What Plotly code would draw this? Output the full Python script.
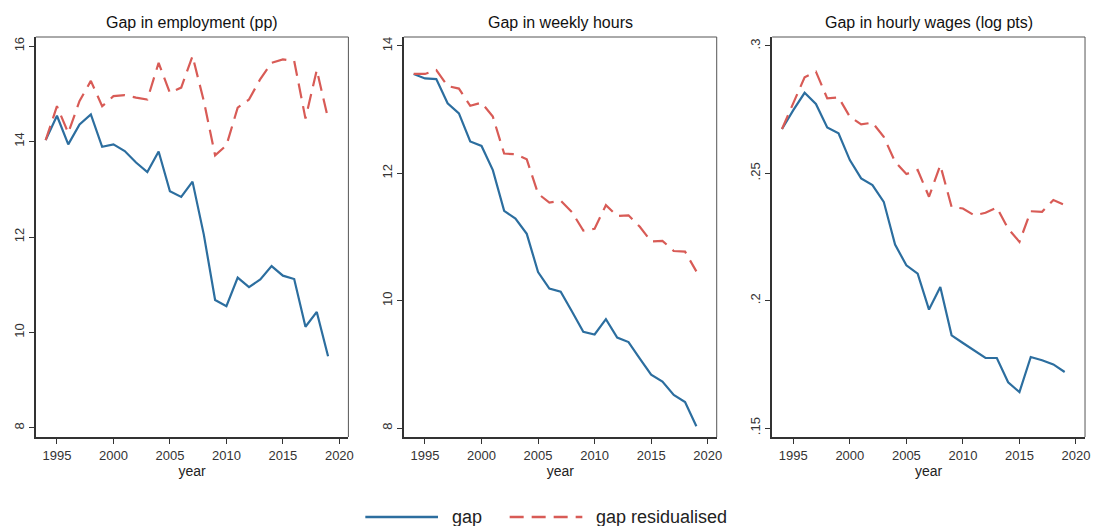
import plotly.graph_objects as go

years = list(range(1994, 2020))

emp_gap = [14.03, 14.54, 13.94, 14.36, 14.57, 13.89, 13.94, 13.80, 13.56, 13.36,
           13.79, 12.96, 12.84, 13.16, 12.05, 10.68, 10.55, 11.15, 10.95, 11.11,
           11.39, 11.19, 11.12, 10.12, 10.43, 9.50]
emp_res = [14.03, 14.74, 14.18, 14.85, 15.27, 14.74, 14.95, 14.97, 14.92, 14.88,
           15.65, 15.02, 15.13, 15.79, 14.85, 13.71, 13.92, 14.71, 14.88, 15.31,
           15.65, 15.72, 15.69, 14.48, 15.50, 14.48]

hrs_gap = [13.56, 13.49, 13.48, 13.10, 12.94, 12.50, 12.43, 12.05, 11.41, 11.29,
           11.05, 10.45, 10.19, 10.14, 9.83, 9.51, 9.47, 9.71, 9.42, 9.35,
           9.09, 8.84, 8.73, 8.52, 8.41, 8.03]
hrs_res = [13.56, 13.56, 13.62, 13.37, 13.33, 13.06, 13.11, 12.89, 12.31, 12.30,
           12.22, 11.68, 11.54, 11.57, 11.39, 11.10, 11.13, 11.50, 11.33, 11.34,
           11.16, 10.93, 10.94, 10.78, 10.77, 10.46]

wage_gap = [0.2674, 0.2748, 0.2816, 0.2772, 0.2680, 0.2657, 0.2552, 0.2480, 0.2454, 0.2388,
            0.2220, 0.2139, 0.2106, 0.1965, 0.2054, 0.1864, 0.1834, 0.1805, 0.1775, 0.1775,
            0.1680, 0.1641, 0.1779, 0.1766, 0.1750, 0.1720]
wage_res = [0.2674, 0.2775, 0.2877, 0.2899, 0.2794, 0.2798, 0.2722, 0.2692, 0.2699, 0.2643,
            0.2545, 0.2497, 0.2513, 0.2408, 0.2532, 0.2368, 0.2362, 0.2335, 0.2345, 0.2366,
            0.2283, 0.2231, 0.2351, 0.2349, 0.2395, 0.2375]

titles = ["Gap in employment (pp)", "Gap in weekly hours", "Gap in hourly wages (log pts)"]
x_ticks = [1995, 2000, 2005, 2010, 2015, 2020]
y_ticks = [[8, 10, 12, 14, 16], [8, 10, 12, 14], [0.15, 0.2, 0.25, 0.3]]
y_tick_text = [["8", "10", "12", "14", "16"], ["8", "10", "12", "14"], [".15", ".2", ".25", ".3"]]
legend_labels = ["gap", "gap residualised"]

BLUE = "#2c6e9f"
RED = "#d85b56"
FONT = "Liberation Sans, Arial, sans-serif"

W, H = 1096, 526
panel_px = [(36, 350), (405.7, 720), (775.7, 1090)]
y_dom = [(H - 437) / H, (H - 37) / H]
y_ranges = [[7.81, 16.19], [7.86, 14.14], [0.1465, 0.3035]]

series = [(emp_gap, emp_res), (hrs_gap, hrs_res), (wage_gap, wage_res)]

fig = go.Figure()
layout = dict(
    width=W, height=H,
    margin=dict(l=0, r=0, t=0, b=0),
    paper_bgcolor="white", plot_bgcolor="white",
    showlegend=False,
    font=dict(family=FONT, color="#333333"),
)

annotations = []
shapes = []
for i, ((g, r), title) in enumerate(zip(series, titles)):
    n = "" if i == 0 else str(i + 1)
    xa, ya = "x" + n, "y" + n
    fig.add_trace(go.Scatter(x=years, y=g, mode="lines", xaxis=xa, yaxis=ya,
                             line=dict(color=BLUE, width=2.2), name=legend_labels[0]))
    fig.add_trace(go.Scatter(x=years, y=r, mode="lines", xaxis=xa, yaxis=ya,
                             line=dict(color=RED, width=2.2, dash="15px,8px"),
                             name=legend_labels[1]))
    x0, x1 = panel_px[i]
    layout["xaxis" + n] = dict(
        domain=[x0 / W, x1 / W], anchor=ya, range=[1993.13, 2020.8],
        tickvals=x_ticks, ticks="outside", ticklen=5, tickwidth=1, tickcolor="#333",
        showgrid=False, zeroline=False, showline=True, linecolor="#333", linewidth=2,
        mirror=False, tickfont=dict(size=13, color="#333"),
        title=dict(text="year", font=dict(size=14, color="#222"), standoff=0),
    )
    layout["yaxis" + n] = dict(
        domain=list(y_dom), anchor=xa, range=y_ranges[i],
        tickvals=y_ticks[i], ticktext=y_tick_text[i], tickangle=-90,
        ticks="outside", ticklen=5, tickwidth=1, tickcolor="#333",
        showgrid=False, zeroline=False, showline=True, linecolor="#333", linewidth=2,
        mirror=False, tickfont=dict(size=13, color="#333"),
    )
    # thin frame on the top and right edges
    shapes.append(dict(type="line", xref="paper", yref="paper",
                       x0=x0 / W, x1=x1 / W, y0=y_dom[1], y1=y_dom[1],
                       line=dict(color="#555", width=1)))
    shapes.append(dict(type="line", xref="paper", yref="paper",
                       x0=x1 / W, x1=x1 / W, y0=y_dom[0], y1=y_dom[1],
                       line=dict(color="#555", width=1)))
    annotations.append(dict(text=title, xref="paper", yref="paper",
                            x=(x0 + x1) / 2 / W, y=(H - 23) / H, xanchor="center",
                            yanchor="middle", showarrow=False,
                            font=dict(size=16, color="#111", family=FONT)))

# legend row at the bottom
ly = (H - 517) / H
shapes.append(dict(type="line", xref="paper", yref="paper",
                   x0=367 / W, x1=440 / W, y0=ly, y1=ly,
                   line=dict(color=BLUE, width=2.5)))
shapes.append(dict(type="line", xref="paper", yref="paper",
                   x0=512 / W, x1=585 / W, y0=ly, y1=ly,
                   line=dict(color=RED, width=2.5, dash="14px,8px")))
annotations.append(dict(text=legend_labels[0], xref="paper", yref="paper",
                        x=452 / W, y=ly, xanchor="left", yanchor="middle",
                        showarrow=False, font=dict(size=18, color="#222", family=FONT)))
annotations.append(dict(text=legend_labels[1], xref="paper", yref="paper",
                        x=597 / W, y=ly, xanchor="left", yanchor="middle",
                        showarrow=False, font=dict(size=18, color="#222", family=FONT)))

layout["annotations"] = annotations
layout["shapes"] = shapes
fig.update_layout(**layout)
fig.write_html("out.html")
